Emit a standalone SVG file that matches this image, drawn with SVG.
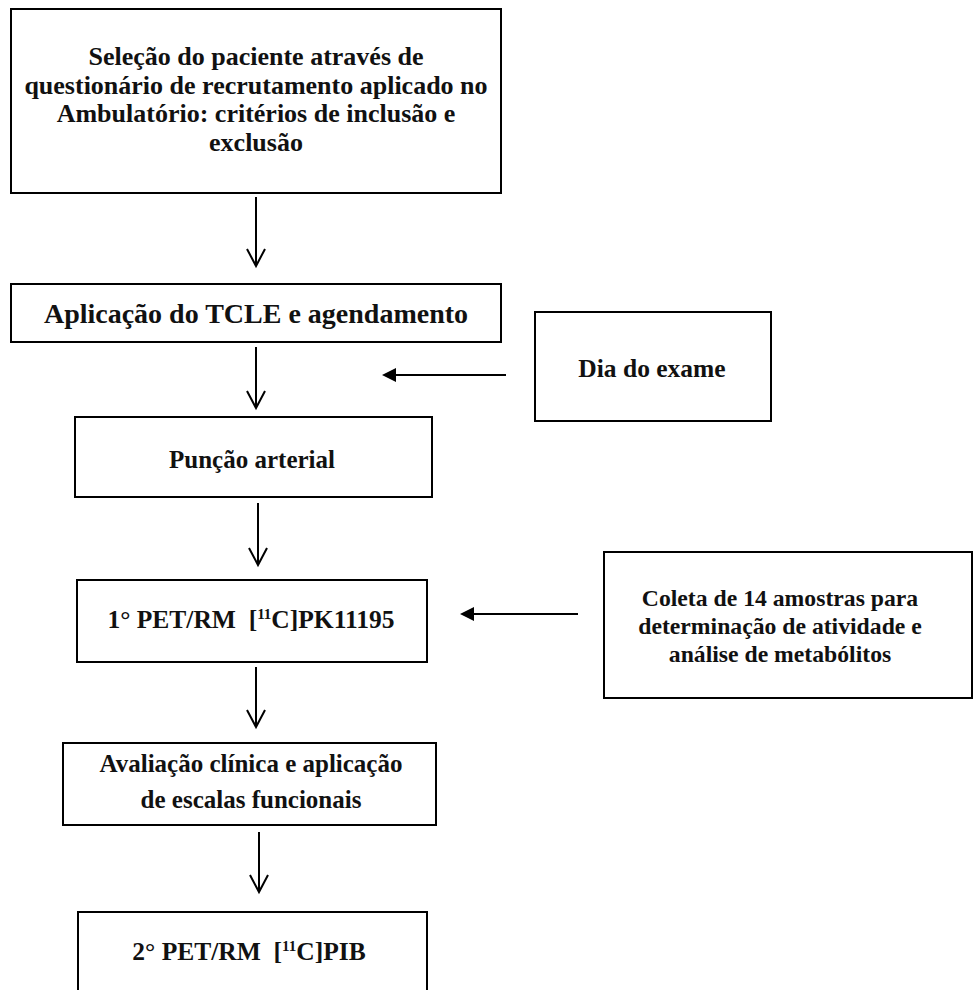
<svg xmlns="http://www.w3.org/2000/svg" width="974" height="990" viewBox="0 0 974 990">
<style>
.box{fill:#fff;stroke:#000;stroke-width:2}
.t{font-family:"Liberation Serif","Times New Roman",serif;font-weight:bold;font-size:25px;fill:#111;text-anchor:middle}
.con{stroke:#000;stroke-width:2;fill:none}
.sup{font-size:15px}
</style>
<defs>
<marker id="open" markerUnits="userSpaceOnUse" markerWidth="22" markerHeight="22" viewBox="0 0 22 22" refX="19" refY="11" orient="auto">
<path d="M2,2 L19,11 L2,20" fill="none" stroke="#000" stroke-width="2"/>
</marker>
<marker id="solid" markerUnits="userSpaceOnUse" markerWidth="16" markerHeight="16" viewBox="0 0 16 16" refX="12" refY="8" orient="auto">
<path d="M0,1 L14,8 L0,15 Z" fill="#000"/>
</marker>
</defs>
<rect width="974" height="990" fill="#fff"/>
<g id="connectors">
<line class="con" x1="256" y1="197" x2="256" y2="266" marker-end="url(#open)"/>
<line class="con" x1="256" y1="347" x2="256" y2="408" marker-end="url(#open)"/>
<line class="con" x1="506" y1="375" x2="384" y2="375" marker-end="url(#solid)"/>
<line class="con" x1="258" y1="503" x2="258" y2="565" marker-end="url(#open)"/>
<line class="con" x1="578" y1="614" x2="462" y2="614" marker-end="url(#solid)"/>
<line class="con" x1="256" y1="667" x2="256" y2="727" marker-end="url(#open)"/>
<line class="con" x1="259" y1="832" x2="259" y2="892" marker-end="url(#open)"/>
</g>
<g id="selecao">
<rect class="box" x="11" y="9" width="490" height="184"/>
<text class="t" x="256" y="65" style="font-size:26px">Seleção do paciente através de</text>
<text class="t" x="256" y="94" style="font-size:26px">questionário de recrutamento aplicado no</text>
<text class="t" x="256" y="122" style="font-size:26px">Ambulatório: critérios de inclusão e</text>
<text class="t" x="256" y="151" style="font-size:26px">exclusão</text>
</g>
<g id="tcle">
<rect class="box" x="11" y="284" width="490" height="58"/>
<text class="t" x="256" y="323" style="font-size:28px">Aplicação do TCLE e agendamento</text>
</g>
<g id="dia">
<rect class="box" x="535" y="312" width="236" height="109"/>
<text class="t" x="652" y="377" style="font-size:25.5px">Dia do exame</text>
</g>
<g id="puncao">
<rect class="box" x="75" y="417" width="357" height="80"/>
<text class="t" x="252" y="468">Punção arterial</text>
</g>
<g id="pet1">
<rect class="box" x="77" y="580" width="350" height="82"/>
<text class="t" x="251" y="628" style="font-size:25.5px">1° PET/RM&#160; [<tspan class="sup" dy="-9">11</tspan><tspan dy="9">C]PK11195</tspan></text>
</g>
<g id="coleta">
<rect class="box" x="604" y="552" width="368" height="146"/>
<text class="t" x="780" y="606" style="font-size:23.7px">Coleta de 14 amostras para</text>
<text class="t" x="780" y="634" style="font-size:23.7px">determinação de atividade e</text>
<text class="t" x="780" y="662" style="font-size:23.7px">análise de metabólitos</text>
</g>
<g id="avaliacao">
<rect class="box" x="63" y="743" width="373" height="82"/>
<text class="t" x="251" y="772">Avaliação clínica e aplicação</text>
<text class="t" x="251" y="808">de escalas funcionais</text>
</g>
<g id="pet2">
<rect class="box" x="78" y="912" width="349" height="100"/>
<text class="t" x="249" y="960" style="font-size:25.5px">2° PET/RM&#160; [<tspan class="sup" dy="-9">11</tspan><tspan dy="9">C]PIB</tspan></text>
</g>
</svg>
